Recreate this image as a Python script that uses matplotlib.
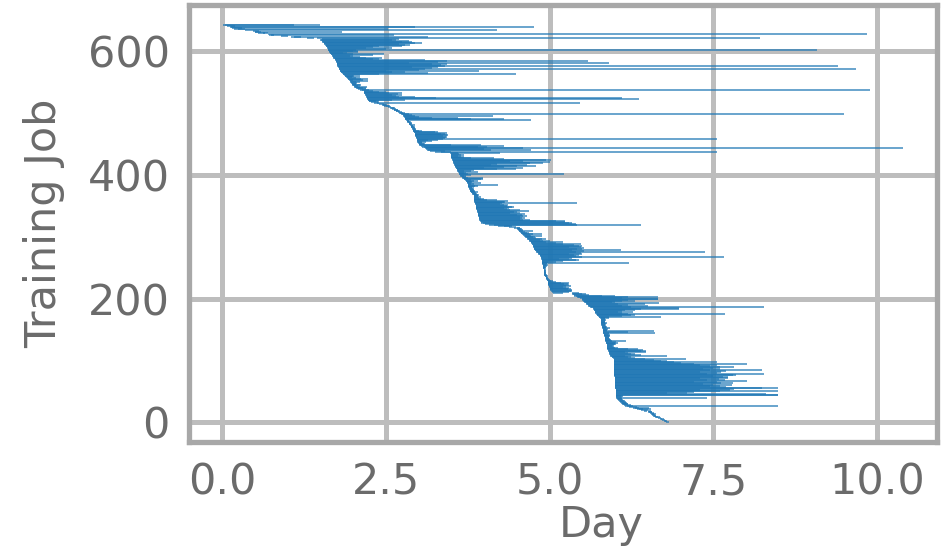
import numpy as np
import matplotlib
matplotlib.use('Agg')
import matplotlib.pyplot as plt

# start day of each training job, job 0 at the bottom (rows of 10 jobs)
start_day = [
    6.79, 6.77, 6.76, 6.74, 6.72, 6.70, 6.68, 6.66, 6.63, 6.61,
    6.59, 6.58, 6.57, 6.56, 6.55, 6.54, 6.52, 6.51, 6.50, 6.44,
    6.40, 6.37, 6.34, 6.30, 6.27, 6.22, 6.18, 6.15, 6.13, 6.12,
    6.11, 6.10, 6.09, 6.08, 6.07, 6.06, 6.05, 6.04, 6.03, 6.03,
    6.02, 6.02, 6.02, 6.01, 6.01, 6.01, 6.01, 6.01, 6.01, 6.01,
    6.01, 6.01, 6.01, 6.01, 6.01, 6.00, 6.00, 6.00, 6.00, 6.00,
    6.00, 6.00, 6.00, 6.00, 6.00, 6.00, 6.00, 6.00, 6.00, 6.00,
    6.00, 6.00, 6.00, 6.00, 6.00, 5.99, 5.99, 5.99, 5.99, 5.99,
    5.99, 5.99, 5.99, 5.99, 5.99, 5.99, 5.99, 5.99, 5.99, 5.99,
    5.99, 5.99, 5.99, 5.99, 5.99, 5.99, 5.99, 5.99, 5.99, 5.99,
    5.99, 5.99, 5.98, 5.98, 5.97, 5.96, 5.95, 5.94, 5.93, 5.92,
    5.92, 5.91, 5.91, 5.90, 5.90, 5.90, 5.89, 5.89, 5.89, 5.88,
    5.88, 5.88, 5.88, 5.87, 5.87, 5.87, 5.87, 5.87, 5.86, 5.86,
    5.86, 5.86, 5.85, 5.85, 5.85, 5.85, 5.84, 5.84, 5.84, 5.84,
    5.83, 5.83, 5.83, 5.83, 5.82, 5.82, 5.82, 5.82, 5.82, 5.81,
    5.81, 5.81, 5.81, 5.80, 5.80, 5.80, 5.80, 5.80, 5.79, 5.79,
    5.79, 5.79, 5.79, 5.79, 5.78, 5.78, 5.78, 5.78, 5.78, 5.77,
    5.76, 5.75, 5.74, 5.73, 5.72, 5.72, 5.71, 5.70, 5.70, 5.69,
    5.69, 5.68, 5.68, 5.68, 5.67, 5.66, 5.64, 5.62, 5.60, 5.59,
    5.58, 5.57, 5.56, 5.55, 5.54, 5.53, 5.52, 5.51, 5.50, 5.50,
    5.49, 5.47, 5.44, 5.42, 5.40, 5.38, 5.37, 5.36, 5.35, 5.34,
    5.06, 5.04, 5.03, 5.02, 5.01, 5.01, 5.00, 5.00, 5.00, 4.99,
    4.99, 4.99, 4.98, 4.98, 4.98, 4.98, 4.97, 4.97, 4.97, 4.97,
    4.96, 4.96, 4.95, 4.95, 4.94, 4.94, 4.93, 4.93, 4.92, 4.92,
    4.92, 4.92, 4.91, 4.91, 4.91, 4.91, 4.91, 4.91, 4.91, 4.90,
    4.90, 4.90, 4.90, 4.90, 4.90, 4.90, 4.89, 4.89, 4.89, 4.89,
    4.89, 4.88, 4.88, 4.88, 4.88, 4.87, 4.87, 4.87, 4.87, 4.86,
    4.86, 4.85, 4.84, 4.83, 4.82, 4.81, 4.80, 4.79, 4.78, 4.78,
    4.77, 4.77, 4.76, 4.76, 4.75, 4.75, 4.74, 4.74, 4.73, 4.73,
    4.72, 4.72, 4.71, 4.70, 4.69, 4.68, 4.67, 4.66, 4.65, 4.64,
    4.63, 4.62, 4.61, 4.60, 4.59, 4.58, 4.57, 4.56, 4.55, 4.54,
    4.53, 4.52, 4.52, 4.51, 4.51, 4.45, 4.38, 4.30, 4.22, 4.15,
    4.08, 4.02, 3.98, 3.96, 3.95, 3.95, 3.94, 3.94, 3.93, 3.93,
    3.93, 3.92, 3.92, 3.92, 3.91, 3.91, 3.91, 3.90, 3.90, 3.90,
    3.90, 3.89, 3.89, 3.89, 3.89, 3.88, 3.88, 3.88, 3.88, 3.87,
    3.87, 3.87, 3.87, 3.86, 3.86, 3.86, 3.86, 3.85, 3.85, 3.85,
    3.85, 3.85, 3.85, 3.84, 3.84, 3.84, 3.84, 3.84, 3.84, 3.83,
    3.82, 3.81, 3.80, 3.80, 3.79, 3.79, 3.78, 3.78, 3.77, 3.77,
    3.77, 3.76, 3.76, 3.76, 3.75, 3.75, 3.75, 3.74, 3.74, 3.74,
    3.73, 3.72, 3.71, 3.70, 3.69, 3.68, 3.67, 3.66, 3.65, 3.64,
    3.63, 3.62, 3.62, 3.61, 3.61, 3.60, 3.60, 3.59, 3.59, 3.58,
    3.58, 3.57, 3.57, 3.56, 3.56, 3.55, 3.55, 3.54, 3.54, 3.54,
    3.53, 3.53, 3.52, 3.52, 3.52, 3.51, 3.51, 3.51, 3.50, 3.50,
    3.50, 3.50, 3.49, 3.49, 3.49, 3.49, 3.48, 3.35, 3.25, 3.18,
    3.14, 3.13, 3.12, 3.11, 3.10, 3.08, 3.06, 3.04, 3.02, 3.01,
    3.00, 3.00, 2.99, 2.99, 2.98, 2.98, 2.98, 2.97, 2.97, 2.97,
    2.96, 2.96, 2.96, 2.95, 2.95, 2.95, 2.94, 2.94, 2.94, 2.93,
    2.93, 2.92, 2.92, 2.91, 2.91, 2.90, 2.90, 2.89, 2.89, 2.88,
    2.88, 2.87, 2.86, 2.85, 2.85, 2.84, 2.83, 2.82, 2.82, 2.81,
    2.80, 2.80, 2.79, 2.79, 2.78, 2.78, 2.77, 2.77, 2.75, 2.73,
    2.71, 2.70, 2.68, 2.66, 2.65, 2.63, 2.62, 2.60, 2.58, 2.56,
    2.53, 2.50, 2.48, 2.46, 2.44, 2.40, 2.36, 2.32, 2.28, 2.25,
    2.24, 2.23, 2.23, 2.22, 2.22, 2.22, 2.21, 2.20, 2.19, 2.19,
    2.18, 2.18, 2.17, 2.17, 2.16, 2.16, 2.16, 2.14, 2.11, 2.08,
    2.06, 2.04, 2.03, 2.02, 2.01, 2.00, 1.99, 1.98, 1.98, 1.97,
    1.97, 1.96, 1.96, 1.95, 1.94, 1.93, 1.92, 1.91, 1.90, 1.89,
    1.88, 1.87, 1.86, 1.85, 1.84, 1.83, 1.82, 1.81, 1.80, 1.80,
    1.80, 1.79, 1.79, 1.78, 1.78, 1.77, 1.77, 1.76, 1.76, 1.76,
    1.75, 1.75, 1.75, 1.74, 1.74, 1.74, 1.73, 1.73, 1.72, 1.71,
    1.70, 1.70, 1.69, 1.68, 1.68, 1.67, 1.66, 1.65, 1.65, 1.64,
    1.63, 1.63, 1.62, 1.62, 1.61, 1.61, 1.60, 1.60, 1.59, 1.59,
    1.58, 1.57, 1.56, 1.56, 1.55, 1.54, 1.53, 1.52, 1.51, 1.50,
    1.52, 1.45, 1.30, 1.10, 1.05, 0.90, 0.75, 0.72, 0.70, 0.62,
    0.55, 0.50, 0.50, 0.48, 0.45, 0.35, 0.25, 0.18, 0.15, 0.14,
    0.12, 0.08, 0.04, 0.02,
]

# end day of each training job
end_day = [
    6.82, 6.80, 6.79, 6.77, 6.76, 6.74, 6.72, 6.70, 6.68, 6.66,
    6.63, 6.62, 6.61, 6.62, 6.60, 6.60, 6.57, 6.56, 6.55, 6.48,
    6.50, 6.55, 6.42, 6.52, 6.36, 6.33, 6.28, 8.49, 6.25, 6.20,
    6.20, 6.18, 6.17, 6.16, 6.15, 6.14, 6.12, 6.11, 6.10, 6.09,
    7.41, 6.10, 6.09, 6.12, 8.48, 8.48, 8.30, 6.80, 7.10, 7.20,
    7.60, 8.48, 7.75, 7.30, 7.82, 8.48, 8.25, 7.70, 7.45, 7.60,
    7.50, 7.78, 7.35, 7.62, 7.80, 7.55, 7.20, 8.02, 7.68, 7.40,
    7.58, 7.72, 7.30, 7.72, 7.65, 7.50, 7.80, 7.84, 8.28, 7.40,
    7.55, 7.62, 7.30, 7.70, 7.45, 8.25, 7.60, 7.35, 7.50, 7.82,
    7.60, 7.45, 7.30, 7.56, 7.20, 8.02, 7.00, 7.56, 6.90, 6.80,
    6.70, 6.60, 7.08, 6.45, 6.30, 6.25, 6.20, 6.15, 6.79, 6.40,
    6.30, 6.25, 6.20, 6.15, 6.47, 6.40, 6.47, 6.42, 6.35, 6.20,
    6.05, 6.00, 5.98, 5.97, 5.96, 5.98, 6.02, 6.00, 6.05, 6.00,
    6.01, 6.16, 5.95, 5.94, 5.92, 5.93, 5.90, 5.91, 5.90, 5.92,
    5.90, 5.89, 5.92, 5.90, 6.61, 5.90, 6.20, 6.60, 5.88, 5.87,
    5.87, 5.89, 5.93, 5.86, 5.86, 5.88, 5.86, 5.85, 5.85, 5.86,
    5.85, 5.88, 5.84, 5.85, 5.84, 5.86, 5.85, 5.84, 5.90, 5.84,
    5.90, 6.70, 6.10, 6.25, 6.30, 7.68, 6.20, 6.10, 6.28, 6.05,
    6.10, 6.30, 6.15, 6.97, 6.40, 6.97, 6.25, 8.27, 6.10, 6.50,
    6.20, 6.05, 6.45, 6.67, 6.00, 5.95, 6.30, 6.10, 6.20, 6.65,
    6.65, 6.10, 6.20, 6.65, 5.80, 6.00, 5.60, 5.55, 5.50, 5.45,
    5.20, 5.30, 5.32, 5.35, 5.35, 5.28, 5.33, 5.25, 5.30, 5.20,
    5.32, 5.25, 5.30, 5.22, 5.28, 5.18, 5.30, 5.10, 5.05, 5.02,
    5.00, 4.98, 4.99, 4.98, 4.97, 4.96, 4.96, 4.97, 4.95, 4.96,
    4.95, 4.95, 4.94, 4.93, 4.94, 4.95, 4.93, 4.94, 4.92, 4.93,
    4.94, 4.95, 4.93, 4.96, 4.97, 4.95, 4.96, 6.21, 4.96, 4.97,
    5.10, 5.20, 5.40, 5.45, 5.30, 5.15, 5.35, 7.66, 5.50, 5.40,
    5.45, 5.37, 5.50, 5.30, 5.48, 7.37, 5.40, 5.52, 5.35, 6.09,
    5.50, 5.42, 5.52, 5.48, 5.30, 5.45, 5.50, 5.38, 5.20, 5.48,
    5.10, 5.20, 4.95, 5.00, 4.90, 4.85, 4.88, 4.95, 4.80, 4.75,
    4.78, 4.72, 4.89, 4.70, 4.75, 4.89, 4.68, 4.65, 4.62, 4.60,
    4.75, 4.60, 4.58, 4.56, 4.55, 4.55, 4.48, 4.42, 4.40, 6.39,
    5.42, 5.40, 5.30, 5.35, 5.24, 5.24, 5.10, 4.70, 4.60, 4.55,
    4.62, 4.58, 4.55, 4.65, 4.60, 4.50, 4.58, 4.62, 4.40, 4.55,
    4.50, 4.45, 4.68, 4.55, 4.40, 4.35, 4.38, 4.30, 4.45, 4.42,
    4.35, 4.37, 4.30, 4.25, 4.28, 5.42, 4.30, 4.32, 4.37, 4.20,
    4.05, 4.00, 3.95, 3.92, 3.90, 3.95, 3.91, 3.90, 3.93, 3.89,
    3.88, 3.87, 3.90, 3.86, 3.85, 3.86, 3.84, 3.83, 3.84, 3.82,
    3.82, 3.85, 3.90, 3.86, 4.22, 3.84, 3.80, 3.95, 3.82, 3.80,
    3.90, 3.85, 3.80, 3.99, 3.95, 3.99, 3.75, 3.72, 3.72, 3.70,
    3.80, 5.22, 3.75, 3.72, 3.70, 3.90, 3.80, 3.70, 3.85, 4.48,
    4.20, 4.60, 4.00, 4.30, 4.50, 4.79, 4.10, 4.65, 4.20, 4.90,
    4.70, 5.00, 4.40, 4.60, 4.95, 5.02, 4.30, 4.15, 3.80, 3.70,
    3.65, 3.60, 3.70, 3.65, 3.62, 4.25, 3.60, 3.50, 7.55, 3.40,
    4.10, 4.71, 4.00, 10.39, 4.60, 4.05, 3.90, 4.30, 3.95, 3.50,
    3.10, 3.08, 3.05, 3.12, 3.06, 3.20, 3.15, 3.30, 7.55, 3.38,
    3.40, 3.44, 3.42, 3.38, 3.45, 3.43, 3.40, 3.35, 3.44, 3.30,
    3.25, 3.05, 3.00, 2.96, 2.95, 2.96, 2.94, 2.93, 2.94, 2.92,
    2.92, 2.95, 2.90, 2.89, 2.90, 2.88, 2.87, 2.86, 2.86, 4.71,
    3.80, 4.30, 3.60, 3.20, 3.00, 4.13, 2.95, 2.90, 9.50, 2.85,
    2.80, 2.76, 2.74, 2.72, 2.70, 2.69, 2.68, 2.66, 2.64, 2.62,
    2.58, 2.56, 2.55, 2.52, 2.50, 2.48, 5.46, 2.40, 2.38, 2.35,
    2.40, 2.60, 2.80, 6.36, 6.11, 3.26, 2.95, 2.70, 2.65, 2.75,
    2.60, 2.68, 2.55, 2.75, 2.50, 2.40, 2.30, 2.25, 9.89, 2.20,
    2.20, 2.15, 2.10, 2.22, 2.08, 2.10, 2.12, 2.05, 2.04, 2.06,
    2.10, 2.05, 2.23, 2.15, 2.00, 2.12, 2.23, 2.05, 1.98, 2.10,
    2.02, 2.00, 2.10, 4.48, 2.40, 3.15, 2.80, 2.60, 2.50, 3.92,
    3.00, 9.68, 3.10, 3.20, 2.90, 3.30, 3.40, 9.40, 3.35, 3.20,
    3.44, 5.91, 2.85, 3.30, 5.58, 3.44, 3.10, 2.40, 2.30, 2.20,
    2.44, 2.10, 2.00, 1.95, 2.30, 2.47, 2.00, 1.90, 1.85, 2.08,
    2.08, 2.00, 9.08, 2.05, 2.50, 2.20, 2.60, 2.30, 2.75, 2.40,
    2.80, 2.87, 2.70, 2.95, 3.05, 2.90, 2.75, 2.85, 2.60, 2.65,
    2.70, 8.21, 1.40, 1.20, 3.15, 1.00, 2.62, 0.80, 9.84, 0.70,
    0.65, 1.83, 0.60, 0.56, 4.20, 0.45, 0.35, 2.54, 0.30, 4.76,
    2.95, 0.20, 1.50, 1.10,
]

x_ticks = [0.0, 2.5, 5.0, 7.5, 10.0]
y_ticks = [0, 200, 400, 600]

text_grey = '#6b6b6b'
fig = plt.figure(figsize=(9.47, 5.48), dpi=100)
ax = fig.add_axes([0.2, 0.193, 0.789, 0.798])

jobs = np.arange(len(start_day))
ax.hlines(jobs, start_day, end_day, colors='#1f77b4', linewidth=1.1, alpha=0.85, zorder=3)

ax.set_xticks(x_ticks)
ax.set_yticks(y_ticks)
ax.set_xticklabels(['%.1f' % t for t in x_ticks])
ax.grid(True, color='#bdbdbd', linewidth=3.6, zorder=0)
ax.set_axisbelow(True)
for s in ax.spines.values():
    s.set_color('#a8a8a8')
    s.set_linewidth(3.8)
ax.tick_params(length=0, labelsize=31, colors=text_grey, pad=14)
ax.set_xlabel('Day', fontsize=31, color=text_grey, labelpad=0)
ax.set_ylabel('Training Job', fontsize=31, color=text_grey, labelpad=16)
ax.xaxis.set_label_coords(0.551, -0.142)
ax.margins(x=0.05, y=0.05)

fig.savefig('out.png', dpi=100)
